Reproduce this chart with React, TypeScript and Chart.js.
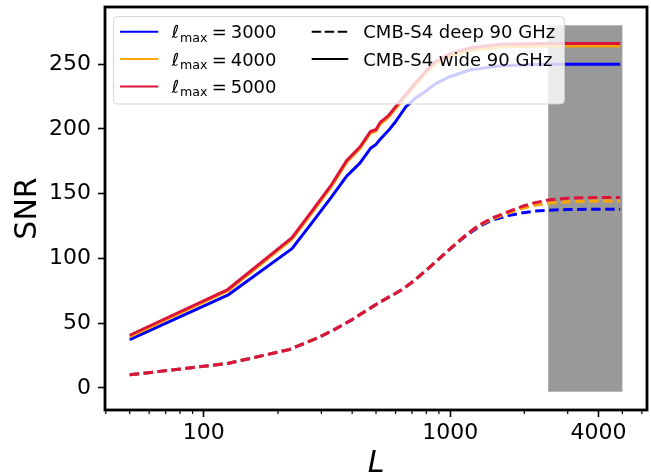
import React, { useEffect, useRef } from 'react';
import { Chart, registerables } from 'chart.js';

Chart.register(...registerables);

const FONT = '"DejaVu Sans", "Liberation Sans", sans-serif';

// ---- data ----
const lWide = [50, 125, 228, 276, 330, 380, 430, 475, 500, 520, 560, 600, 660, 720, 800, 870, 1000, 1200, 1600, 2400, 3000, 4000, 4900];
const wide3000 = [37.3, 71.5, 107.5, 128, 147.5, 163.5, 173.5, 185, 188, 192, 198.5, 205.5, 217, 223.5, 229.5, 234.7, 240.5, 245.5, 248.7, 250, 250, 250, 250];
const wide4000 = [39.6, 74.8, 114.8, 135.8, 155.8, 174.3, 184.8, 196.8, 198.3, 203.8, 208.8, 215.8, 225, 233.5, 243.3, 250.2, 256, 260.5, 263.3, 264, 264, 264, 264];
const wide5000 = [40.6, 75.9, 116, 137, 157, 175.5, 186, 198, 199.5, 205, 210, 217, 226.5, 235, 245, 252, 258, 262.5, 265.3, 266, 266, 266, 266];

const lDeep = [50, 125, 222, 285, 332, 400, 506, 640, 711, 818, 1012, 1152, 1303, 1475, 1722, 1950, 2208, 2500, 3000, 4000, 4900];
const deep3000 = [10, 18.8, 29.5, 38, 44, 52.7, 65, 76, 82.5, 92.5, 108, 117, 124.2, 129.4, 133, 135, 136.5, 137.2, 137.7, 138, 138];
const deep4000 = [10, 18.8, 29.5, 38, 44, 52.7, 65, 76, 82.5, 92.5, 108.2, 117.5, 125, 130.3, 135, 138.5, 141, 142.5, 143.8, 144.3, 144.3];
const deep5000 = [10, 18.8, 29.5, 38, 44, 52.7, 65, 76, 82.5, 92.5, 108.3, 117.7, 125.4, 131, 136, 140, 143, 145, 146.5, 147, 147];

const lmaxLabels = ['3000', '4000', '5000'];
const experimentLabels = ['CMB-S4 deep 90 GHz', 'CMB-S4 wide 90 GHz'];

const xTickValues = [40, 50, 60, 70, 80, 90, 100, 200, 300, 400, 500, 600, 700, 800, 900, 1000, 2000, 3000, 4000, 5000, 6000];
const xLabelled = [100, 1000, 4000];
const yTickValues = [0, 50, 100, 150, 200, 250];

const shadedL = [2500, 5000];
const shadedSNR = [-3, 280];

const xRange = [39.7, 6295];
const yRange = [-17.15, 294.15];

const COLORS = ['#0000ff', '#ffa500', '#dc143c'];

const pts = (xs: number[], ys: number[]) => xs.map((x, i) => ({ x, y: ys[i] }));

const shadePlugin = {
  id: 'shade',
  beforeDatasetsDraw(chart: any) {
    const { ctx, scales } = chart;
    const x0 = scales.x.getPixelForValue(shadedL[0]);
    const x1 = scales.x.getPixelForValue(shadedL[1]);
    const y0 = scales.y.getPixelForValue(shadedSNR[1]);
    const y1 = scales.y.getPixelForValue(shadedSNR[0]);
    ctx.save();
    ctx.fillStyle = '#999999';
    ctx.fillRect(x0, y0, x1 - x0, y1 - y0);
    ctx.restore();
  },
};

const legendPlugin = {
  id: 'mplLegend',
  afterDatasetsDraw(chart: any) {
    const ctx = chart.ctx;
    ctx.save();
    const bx = 113.5, by = 16.5, bw = 451, bh = 87.5, r = 4;
    ctx.beginPath();
    ctx.moveTo(bx + r, by);
    ctx.lineTo(bx + bw - r, by);
    ctx.arcTo(bx + bw, by, bx + bw, by + r, r);
    ctx.lineTo(bx + bw, by + bh - r);
    ctx.arcTo(bx + bw, by + bh, bx + bw - r, by + bh, r);
    ctx.lineTo(bx + r, by + bh);
    ctx.arcTo(bx, by + bh, bx, by + bh - r, r);
    ctx.lineTo(bx, by + r);
    ctx.arcTo(bx, by, bx + r, by, r);
    ctx.closePath();
    ctx.fillStyle = 'rgba(255,255,255,0.8)';
    ctx.fill();
    ctx.strokeStyle = 'rgba(204,204,204,0.8)';
    ctx.lineWidth = 1;
    ctx.stroke();

    const base0 = 38.3;
    const rowH = 27.3;
    ctx.fillStyle = '#000';
    ctx.textBaseline = 'alphabetic';
    ctx.textAlign = 'left';
    lmaxLabels.forEach((lab, i) => {
      const base = base0 + rowH * i;
      const yl = base - 6.5;
      ctx.strokeStyle = COLORS[i];
      ctx.lineWidth = 2;
      ctx.setLineDash([]);
      ctx.beginPath();
      ctx.moveTo(120, yl);
      ctx.lineTo(158.3, yl);
      ctx.stroke();
      ctx.fillStyle = '#000';
      ctx.font = `italic 18px ${FONT}`;
      ctx.fillText('\u2113', 171.7, base);
      ctx.font = `12.6px ${FONT}`;
      ctx.fillText('max', 180, base + 3.5);
      ctx.font = `18px ${FONT}`;
      ctx.fillText('=', 211.7, base);
      ctx.fillText(lab, 230.7, base);
    });
    experimentLabels.forEach((lab, i) => {
      const base = base0 + rowH * i;
      const yl = base - 6.5;
      ctx.strokeStyle = '#000';
      ctx.lineWidth = 2;
      ctx.setLineDash(i === 0 ? [9.5, 3.5] : []);
      ctx.beginPath();
      ctx.moveTo(311.7, yl);
      ctx.lineTo(348.3, yl);
      ctx.stroke();
      ctx.setLineDash([]);
      ctx.font = `18px ${FONT}`;
      ctx.fillText(lab, 363.3, base);
    });
    ctx.restore();
  },
};

const framePlugin = {
  id: 'frame',
  afterDraw(chart: any) {
    const { ctx, chartArea, scales } = chart;
    ctx.save();
    ctx.strokeStyle = '#000';
    ctx.lineWidth = 1.2;
    xTickValues.forEach((v) => {
      if (xLabelled.includes(v)) return;
      const px = scales.x.getPixelForValue(v);
      if (px < chartArea.left || px > chartArea.right) return;
      ctx.beginPath();
      ctx.moveTo(px, chartArea.bottom);
      ctx.lineTo(px, chartArea.bottom + 4);
      ctx.stroke();
    });
    ctx.lineWidth = 2.8;
    ctx.strokeRect(chartArea.left, chartArea.top, chartArea.right - chartArea.left, chartArea.bottom - chartArea.top);
    ctx.restore();
  },
};

export default function App() {
  const ref = useRef<HTMLCanvasElement>(null);
  useEffect(() => {
    const series = [
      { l: lWide, v: wide3000, c: 0, dash: false },
      { l: lWide, v: wide4000, c: 1, dash: false },
      { l: lWide, v: wide5000, c: 2, dash: false },
      { l: lDeep, v: deep3000, c: 0, dash: true },
      { l: lDeep, v: deep4000, c: 1, dash: true },
      { l: lDeep, v: deep5000, c: 2, dash: true },
    ];
    const chart = new Chart(ref.current as HTMLCanvasElement, {
      type: 'line',
      data: {
        datasets: series.map((s) => ({
          data: pts(s.l, s.v),
          borderColor: COLORS[s.c],
          backgroundColor: COLORS[s.c],
          borderWidth: 3,
          borderDash: s.dash ? [9.5, 4.5] : [],
          borderJoinStyle: 'round' as const,
          borderCapStyle: 'butt' as const,
          pointRadius: 0,
          tension: 0,
          fill: false,
          order: 2 - s.c,
        })),
      },
      options: {
        responsive: false,
        animation: false,
        devicePixelRatio: 1,
        layout: { padding: { left: 0, top: 7, right: 4, bottom: 0 } },
        plugins: { legend: { display: false }, tooltip: { enabled: false } },
        scales: {
          x: {
            type: 'logarithmic',
            position: 'bottom',
            min: xRange[0],
            max: xRange[1],
            bounds: 'data',
            afterFit: (s: any) => { s.height = 65; s.paddingLeft = 0; s.paddingRight = 0; },
            afterBuildTicks: (s: any) => {
              s.ticks = xTickValues.map((v) => ({ value: v, major: xLabelled.includes(v) }));
            },
            ticks: {
              autoSkip: false,
              maxRotation: 0,
              minRotation: 0,
              color: '#000',
              padding: 3,
              font: { family: FONT, size: 22 },
              callback: (v: any) => (xLabelled.includes(Number(v)) ? String(v) : ''),
            },
            grid: {
              display: true,
              drawOnChartArea: false,
              drawTicks: true,
              tickLength: 7,
              tickWidth: 1.6,
              tickColor: (c: any) => (c.tick && xLabelled.includes(c.tick.value) ? '#000' : 'rgba(0,0,0,0)'),
            },
            border: { display: false },
            title: {
              display: true,
              text: 'L',
              color: '#000',
              font: { family: FONT, size: 30, style: 'italic', lineHeight: 1 },
              padding: { top: 0, bottom: -4 },
            },
          },
          y: {
            type: 'linear',
            min: yRange[0],
            max: yRange[1],
            bounds: 'data',
            afterFit: (s: any) => { s.width = 105; s.paddingTop = 0; s.paddingBottom = 0; },
            afterBuildTicks: (s: any) => {
              s.ticks = yTickValues.map((v) => ({ value: v }));
            },
            ticks: {
              color: '#000',
              padding: 7,
              font: { family: FONT, size: 22 },
            },
            grid: {
              display: true,
              drawOnChartArea: false,
              drawTicks: true,
              tickLength: 7,
              tickWidth: 1.6,
              tickColor: '#000',
            },
            border: { display: false },
            title: {
              display: true,
              text: 'SNR',
              color: '#000',
              font: { family: FONT, size: 30, lineHeight: 1 },
              padding: { top: 13, bottom: 0 },
            },
          },
        },
      },
      plugins: [shadePlugin, legendPlugin, framePlugin],
    } as any);
    return () => chart.destroy();
  }, []);
  return (
    <div style={{ position: 'absolute', left: 0, top: 0, width: 651, height: 475, background: '#fff' }}>
      <canvas ref={ref} width={651} height={475} style={{ display: 'block', width: 651, height: 475 }} />
    </div>
  );
}
